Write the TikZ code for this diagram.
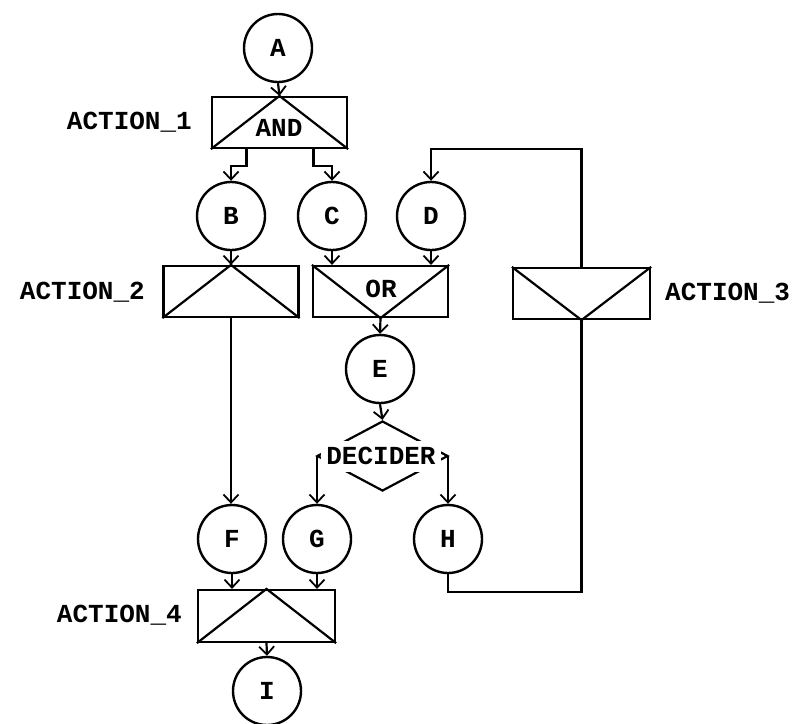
\documentclass[tikz,border=0pt]{standalone}
\usepackage{fontspec}
\setmonofont{Liberation Mono}
\usetikzlibrary{arrows.meta,shapes.geometric}
\begin{document}
\begin{tikzpicture}[x=1pt,y=-1pt,
  every node/.style={font=\ttfamily\bfseries\fontsize{26}{26}\selectfont},
  place/.style={circle,draw,line width=2.4pt,minimum size=68pt,inner sep=0pt},
  trans/.style={rectangle,draw,line width=2.2pt,minimum width=135pt,minimum height=51pt,inner sep=0pt},
  wire/.style={line width=2.2pt},
  arr/.style={wire,-{Straight Barb[length=8pt,width=15pt,line width=1.8pt]}},
  lbl/.style={inner sep=0pt},
  gate/.style={fill=white,inner sep=1pt}]
\useasboundingbox (0,0) rectangle (799,723);
% places
\node[place] (A) at (278,48) {A};
\node[place] (B) at (231,216) {B};
\node[place] (C) at (332,216) {C};
\node[place] (D) at (431,216) {D};
\node[place] (E) at (380,369) {E};
\node[place] (F) at (232,539) {F};
\node[place] (G) at (317,539) {G};
\node[place] (H) at (448,539) {H};
\node[place] (I) at (267,691) {I};
% transitions
\node[trans] (T1) at (279.5,122.5) {};
\node[trans] (T2) at (231,291.5) {};
\node[trans] (T0) at (380.5,291.5) {};
\node[trans,minimum width=137pt] (T3) at (581.5,293.5) {};
\node[trans,minimum width=137pt,minimum height=52pt] (T4) at (266.5,616) {};
% labels
\node[lbl,anchor=base east] (L1) at (192,129) {ACTION\_1};
\node[lbl,anchor=base east] (L2) at (145,299) {ACTION\_2};
\node[lbl,anchor=base west] (L3) at (665,300) {ACTION\_3};
\node[lbl,anchor=base east] (L4) at (182,622) {ACTION\_4};
% transition inner lines
\draw[wire] (T1.south west) -- (T1.north) -- (T1.south east);
\node[gate] (and) at (279,128) {AND};
\draw[wire] (T2.south west) -- (T2.north) -- (T2.south east);
\draw[wire] (T0.north west) -- (T0.south) -- (T0.north east);
\node (or) at (381,289) {OR};
\draw[wire] (T3.north west) -- (T3.south) -- (T3.north east);
\draw[wire] (T4.south west) -- (T4.north) -- (T4.south east);
% decider
\node[diamond,draw,line width=2.2pt,minimum width=131pt,minimum height=70pt,inner sep=0pt] (dec) at (382.5,456) {};
\node[fill=white,inner sep=0pt,minimum width=120pt,minimum height=31pt] (dectext) at (381,456) {DECIDER};
% connectors
\draw[arr] (A.south) -- (T1.north);
\draw[arr] ([xshift=-33pt]T1.south) -- ++(0,17) -| (B.north);
\draw[arr] ([xshift=34pt]T1.south) -- ++(0,17) -| (C.north);
\draw[arr] (B.south) -- (T2.north);
\draw[arr] (C.south) -- (C.south |- T0.north);
\draw[arr] (D.south) -- (D.south |- T0.north);
\draw[arr] (T0.south) -- (E.north);
\coordinate (top3) at (581.5,149);
\draw[arr] (T3.north) -- (top3) -| (D.north);
\draw[arr] (T2.south) -- (T2.south |- F.north);
\draw[arr] (E.south) -- (dec.north);
\draw[arr] (G.north |- dec.west) -- (G.north);
\draw[arr] (H.north |- dec.east) -- (H.north);
\coordinate (bot3) at (581.5,592);
\draw[wire] (T3.south) -- (bot3) -| (H.south);
\draw[arr] (F.south) -- (F.south |- T4.north);
\draw[arr] (G.south) -- (G.south |- T4.north);
\draw[arr] (T4.south) -- (I.north);
\end{tikzpicture}
\end{document}
